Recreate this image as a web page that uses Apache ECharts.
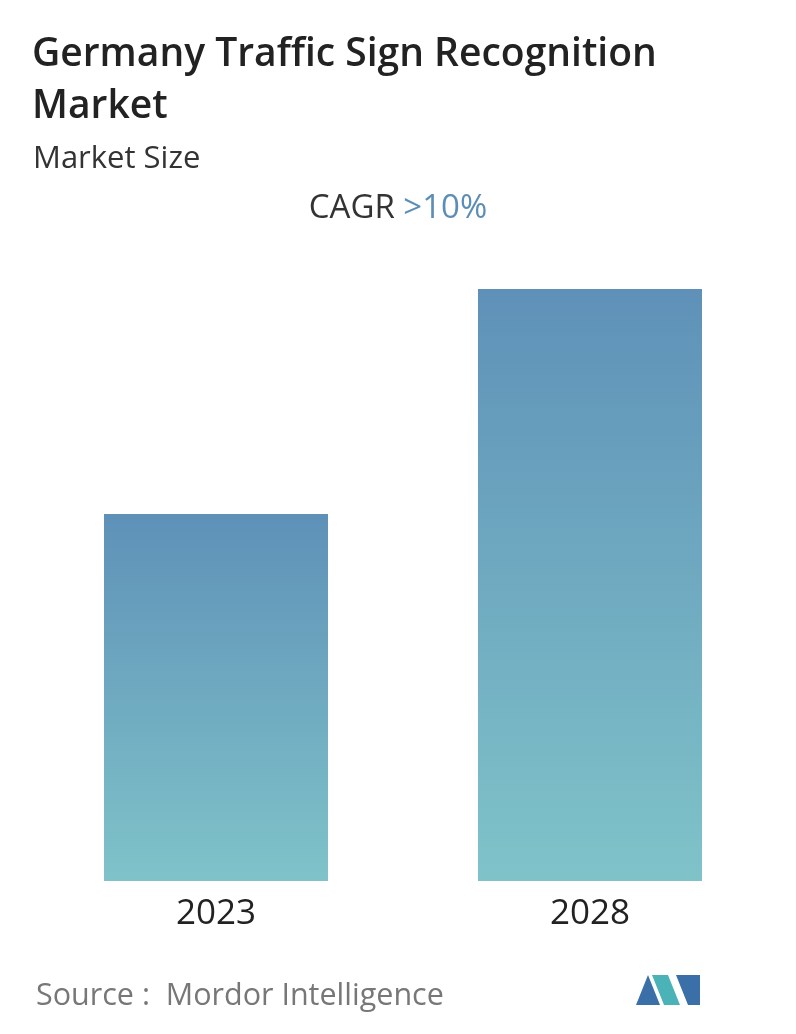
<!DOCTYPE html>
<html><head><meta charset="utf-8">
<script src="https://cdn.jsdelivr.net/npm/echarts@6/dist/echarts.min.js"></script>
<style>html,body{margin:0;padding:0;background:#fff}#c{width:796px;height:1034px}</style>
</head><body><div id="c"></div>
<script>
const categories = ['2023', '2028'];
const values = [367, 592];
const chart = echarts.init(document.getElementById('c'));
const grad = new echarts.graphic.LinearGradient(0,0,0,1,[{offset:0,color:'#5f91b8'},{offset:1,color:'#7fc3c9'}]);
chart.setOption({
  animation:false,
  title:[
    {text:'Germany Traffic Sign Recognition\nMarket',left:27,top:24,textStyle:{fontFamily:'Open Sans',fontSize:39,fontWeight:600,color:'#222',lineHeight:52}},
    {text:'Market Size',left:28,top:139,textStyle:{fontFamily:'Open Sans',fontSize:31,fontWeight:'normal',color:'#333'}},
    {text:'CAGR {b|>10%}',left:'center',top:187,textStyle:{fontFamily:'Open Sans',fontSize:33,fontWeight:'normal',color:'#333',rich:{b:{fontFamily:'Open Sans',fontSize:33,color:'#5b8db5'}}}},
    {text:'Source :  Mordor Intelligence',left:31,top:976,textStyle:{fontFamily:'Open Sans',fontSize:30.5,fontWeight:'normal',color:'#777'}}
  ],
  grid:{left:29,right:19,top:289,bottom:153},
  xAxis:{type:'category',data:categories,axisLine:{show:false},axisTick:{show:false},
    axisLabel:{fontFamily:'Open Sans',fontSize:35,color:'#222',margin:16}},
  yAxis:{type:'value',min:0,max:592,show:false,splitLine:{show:false}},
  series:[{type:'bar',data:values,barWidth:224,itemStyle:{color:grad}}],
  graphic:[
    {type:'polygon',shape:{points:[[636,1005],[648,975],[660,1005]]},style:{fill:'#3a6fa8'}},
    {type:'polygon',shape:{points:[[652,975],[668,975],[680,1005],[664,1005]]},style:{fill:'#4bb3b8'}},
    {type:'polygon',shape:{points:[[676,975],[700,975],[700,1005],[688,1005]]},style:{fill:'#3a6fa8'}}
  ]
});
</script></body></html>
